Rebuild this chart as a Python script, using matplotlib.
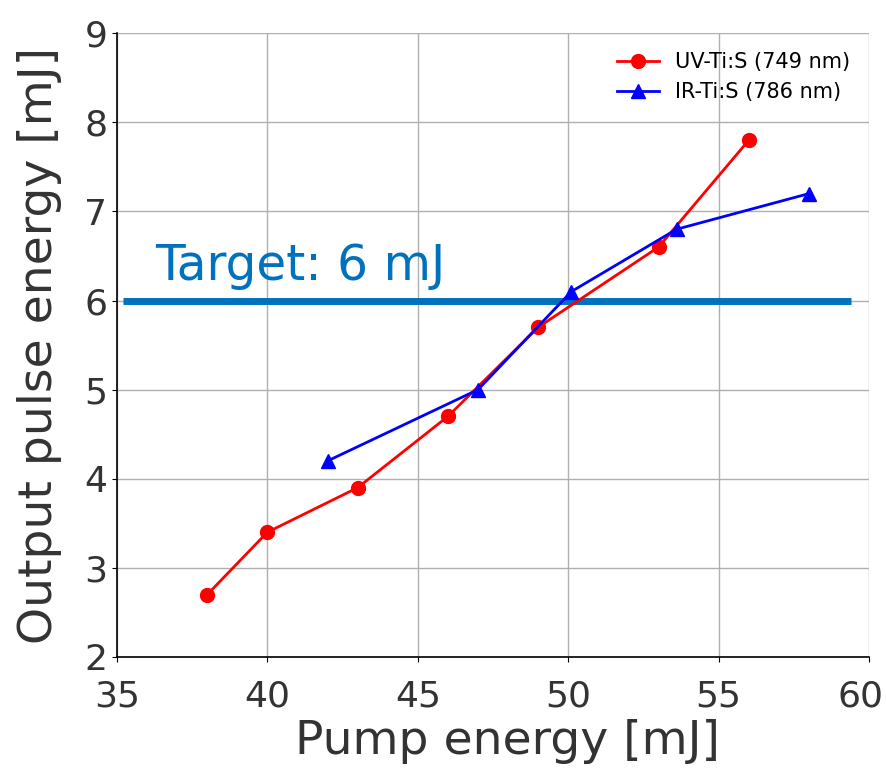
import matplotlib.pyplot as plt
from matplotlib.transforms import ScaledTranslation

# data
uv_pump = [38, 40, 43, 46, 49, 53, 56]
uv_out = [2.7, 3.4, 3.9, 4.7, 5.7, 6.6, 7.8]
ir_pump = [42, 47, 50.1, 53.6, 58]
ir_out = [4.2, 5.0, 6.1, 6.8, 7.2]
target = 6
target_span = [35.2, 59.4]

fig = plt.figure(figsize=(8.86, 7.72), dpi=100)
ax = fig.add_axes([0.132, 0.149, 0.849, 0.808])

ax.plot(target_span, [target, target], color='#0072bd', lw=5, solid_capstyle='butt', zorder=2)
ax.text(36.26, 6.23, 'Target: 6 mJ', color='#0072bd', fontsize=35, va='baseline')

ax.plot(uv_pump, uv_out, '-o', color='red', lw=2, ms=10, label='UV-Ti:S (749 nm)', zorder=3)
ax.plot(ir_pump, ir_out, '-^', color='blue', lw=2, ms=10, label='IR-Ti:S (786 nm)', zorder=3)

ax.set_xlim(35, 60)
ax.set_ylim(2, 9)
ax.set_xticks([35, 40, 45, 50, 55, 60])
ax.set_yticks(range(2, 10))
ax.grid(True, color='#b0b0b0', lw=1.0)
ax.set_axisbelow(True)
for s in ['top', 'right']:
    ax.spines[s].set_visible(False)
ax.spines['left'].set_linewidth(1.2)
ax.spines['bottom'].set_linewidth(1.2)

ax.tick_params(labelsize=26, labelcolor='#333333', length=3.5)
ax.tick_params(axis='x', pad=13)
ax.tick_params(axis='y', pad=3.5)
ax.set_xlabel('Pump energy [mJ]', fontsize=34, color='#333333', labelpad=4)
ax.set_ylabel('Output pulse energy [mJ]', fontsize=34, color='#333333', labelpad=16)
ax.xaxis.label.set_x(0.519)

# last x label sits a bit inside the figure edge
last = ax.get_xticklabels()[-1]
last.set_transform(last.get_transform() + ScaledTranslation(-9 / 100, 0, fig.dpi_scale_trans))

ax.legend(loc='upper right', frameon=False, fontsize=15)

fig.savefig('out.png')
